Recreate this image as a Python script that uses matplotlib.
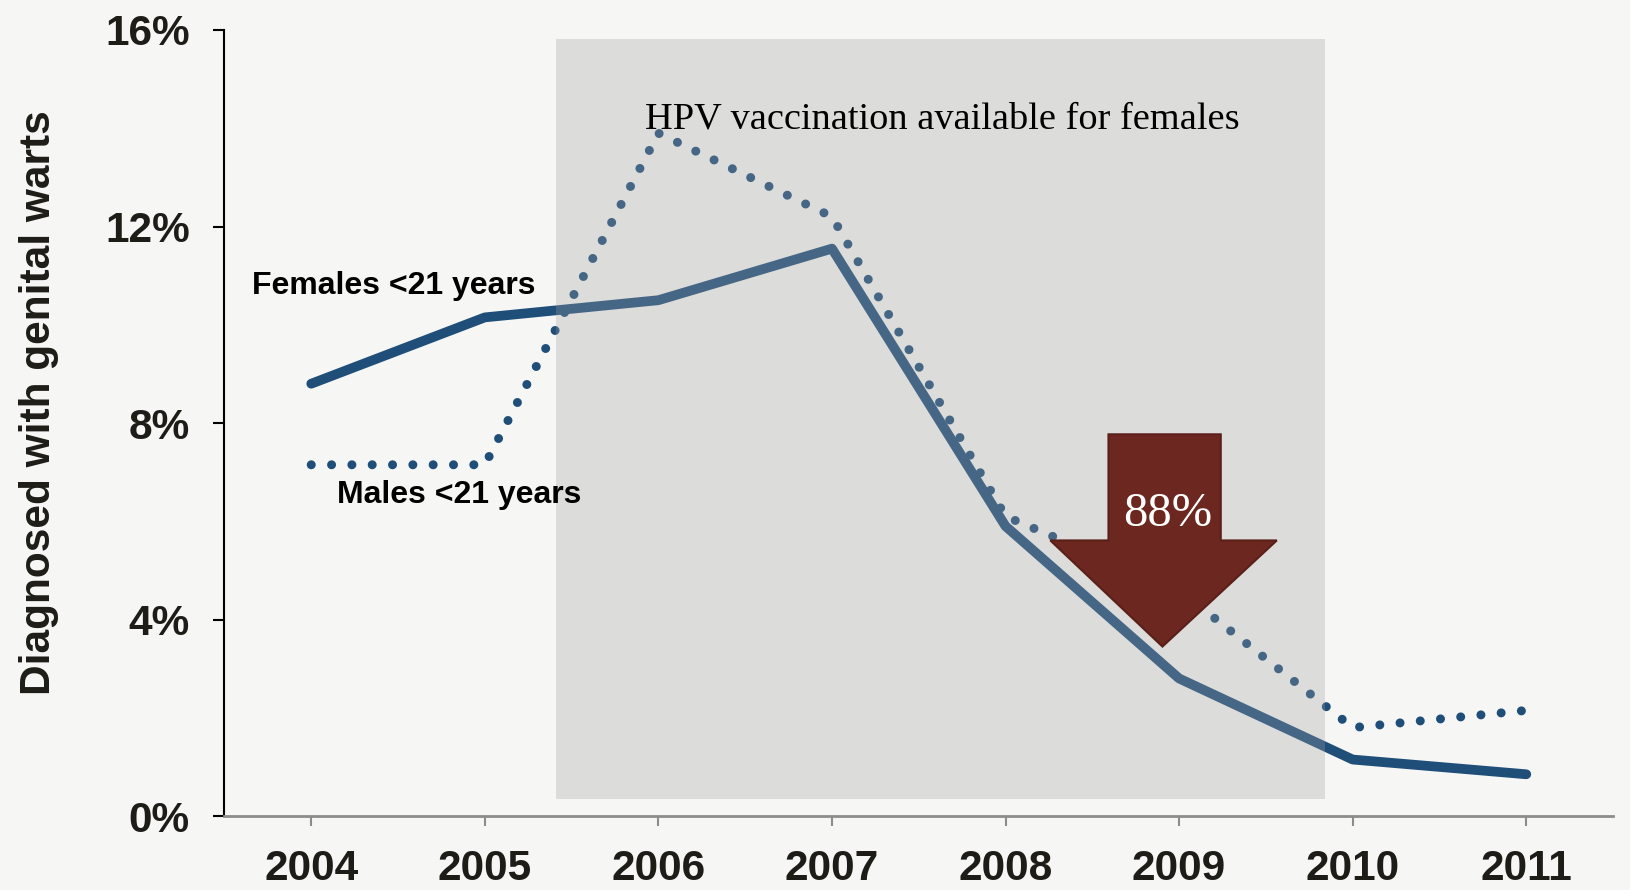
import matplotlib
matplotlib.use("Agg")
import matplotlib.pyplot as plt
from matplotlib.patches import Rectangle, Polygon

years = [2004, 2005, 2006, 2007, 2008, 2009, 2010, 2011]
females = [8.8, 10.15, 10.5, 11.55, 5.9, 2.8, 1.15, 0.85]
males = [7.15, 7.15, 13.9, 12.2, 6.1, 4.6, 1.8, 2.15]
yticks = [0, 4, 8, 12, 16]

# vaccination period shading and 88% drop arrow (data units)
vacc_start, vacc_end = 2005.41, 2009.84
vacc_bottom, vacc_top = 0.34, 15.81
arrow_shaft = (2008.593, 2009.240)
arrow_head = (2008.258, 2009.563)
arrow_tip = (2008.904, 3.45)
arrow_top, arrow_neck = 7.77, 5.61

blue = "#1f4e79"
dark = "#1e1c17"

fig = plt.figure(figsize=(16.3, 8.9), dpi=100, facecolor="#f6f6f5")
ax = fig.add_axes([0.1377, 0.0831, 0.8519, 0.8832])
ax.set_facecolor("none")

ax.plot(years, females, color=blue, lw=7, solid_capstyle="round",
        solid_joinstyle="round", zorder=2)
ax.plot(years, males, color=blue, lw=6.5, linestyle=(0, (0.001, 2.25)),
        dash_capstyle="round", zorder=2)

# grey box sits on top of the lines, so they look lighter inside it
ax.add_patch(Rectangle((vacc_start, vacc_bottom), vacc_end - vacc_start,
                       vacc_top - vacc_bottom, facecolor="#a0a0a0",
                       alpha=0.3, lw=0, zorder=3))

arrow = Polygon([(arrow_shaft[0], arrow_top), (arrow_shaft[1], arrow_top),
                 (arrow_shaft[1], arrow_neck), (arrow_head[1], arrow_neck),
                 arrow_tip, (arrow_head[0], arrow_neck),
                 (arrow_shaft[0], arrow_neck)],
                closed=True, facecolor="#6c2820", edgecolor="#5a1f18",
                lw=1.5, zorder=5)
ax.add_patch(arrow)
ax.text(2008.934, 6.14, "88%", color="white", fontsize=35,
        family="Liberation Serif", ha="center", va="center", zorder=6)

ax.text(2007.635, 14.19, "HPV vaccination available for females",
        fontsize=27.6, family="Liberation Serif", color="black",
        ha="center", va="center", zorder=6)
ax.text(2003.658, 10.79, "Females <21 years", fontsize=23,
        fontweight="bold", family="Liberation Sans", color="black",
        ha="left", va="center", zorder=6)
ax.text(2004.15, 6.54, "Males <21 years", fontsize=23,
        fontweight="bold", family="Liberation Sans", color="black",
        ha="left", va="center", zorder=6)

ax.set_xlim(2003.5, 2011.5)
ax.set_ylim(0, 16)
ax.set_xticks(years)
ax.set_xticklabels([str(y) for y in years])
ax.set_yticks(yticks)
ax.set_yticklabels([f"{v}%" for v in yticks])

for lab in ax.get_xticklabels() + ax.get_yticklabels():
    lab.set_family("Liberation Sans")
    lab.set_fontweight("bold")
    lab.set_fontsize(30.5)
    lab.set_color(dark)

ax.spines["top"].set_visible(False)
ax.spines["right"].set_visible(False)
ax.spines["left"].set_color("black")
ax.spines["left"].set_linewidth(1.5)
ax.spines["bottom"].set_color("#8c8c8c")
ax.spines["bottom"].set_linewidth(2)
ax.tick_params(axis="y", length=8, width=1.5, color="black", pad=17)
ax.tick_params(axis="x", length=7, width=1.5, color="#8c8c8c", pad=17)

ax.set_ylabel("Diagnosed with genital warts", fontsize=30.5,
              fontweight="bold", family="Liberation Sans", color=dark,
              va="center")
ax.yaxis.set_label_coords(-0.1332, 0.5254)

fig.savefig("out.png", dpi=100, facecolor=fig.get_facecolor())
